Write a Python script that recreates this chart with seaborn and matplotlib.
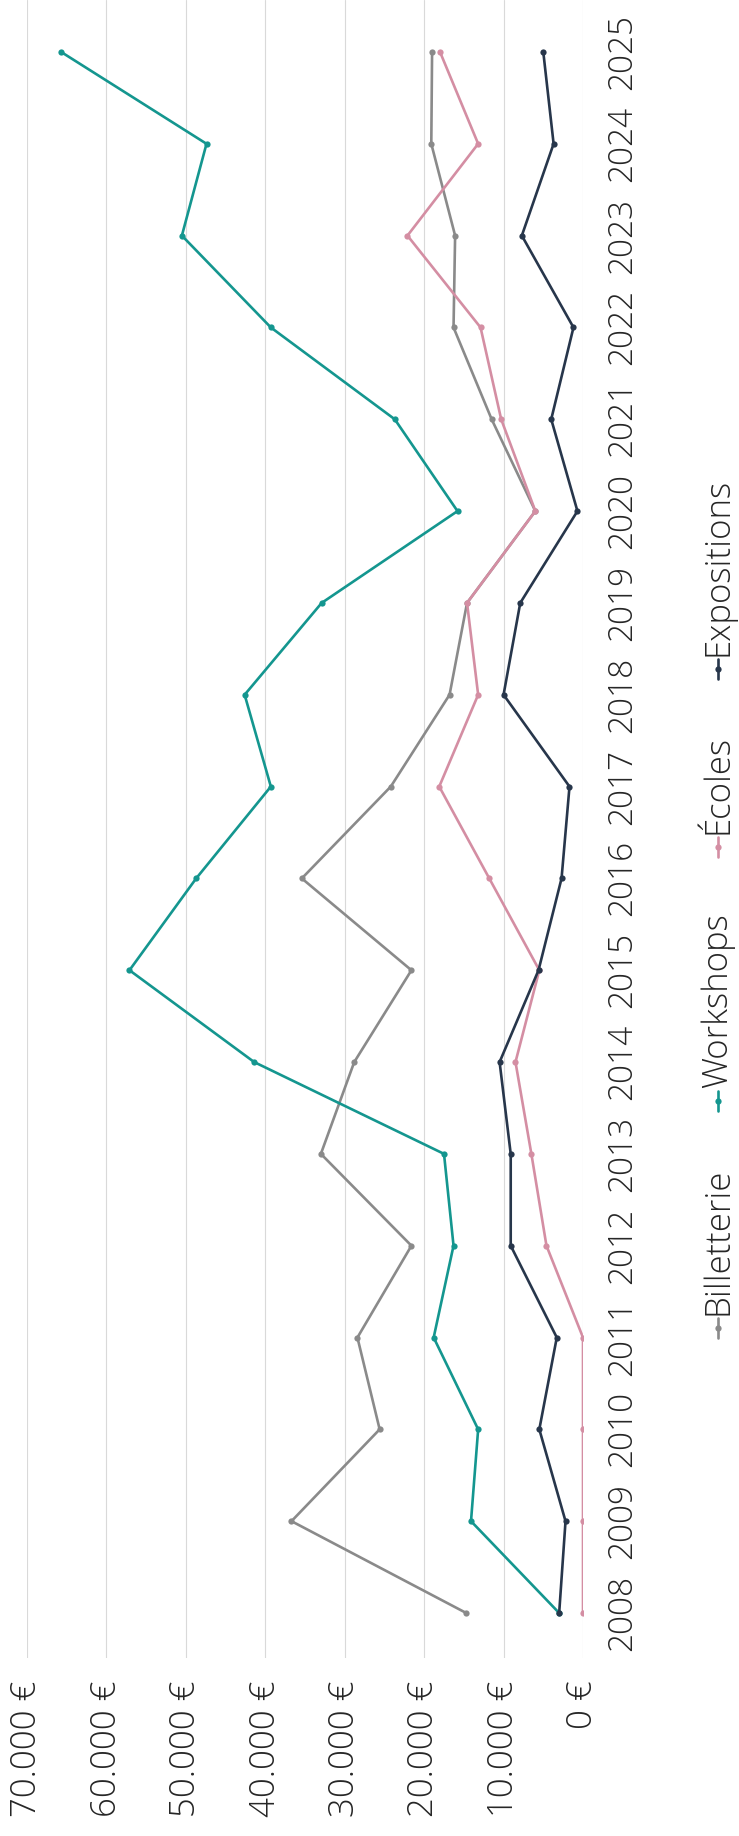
import numpy as np
import pandas as pd
import matplotlib
matplotlib.use("Agg")
import matplotlib.pyplot as plt
import seaborn as sns
from matplotlib.lines import Line2D
from matplotlib.ticker import FuncFormatter, FixedLocator

# ---------------- data ----------------
years = list(range(2008, 2026))
billetterie = [14700, 36700, 25600, 28400, 21600, 33000, 28800, 21600, 35400,
               24200, 16800, 14600, 6000, 11500, 16300, 16100, 19100, 19000]
workshops = [3000, 14100, 13200, 18800, 16300, 17500, 41400, 57100, 48700,
             39300, 42600, 32900, 15800, 23700, 39300, 50500, 47400, 65700]
ecoles = [0, 0, 0, 0, 4600, 6500, 8500, 5500, 11800,
          18100, 13200, 14600, 6000, 10300, 12900, 22100, 13200, 18000]
expositions = [3000, 2200, 5500, 3300, 9100, 9100, 10500, 5600, 2700,
               1700, 10000, 7900, 700, 4000, 1200, 7700, 3700, 5000]
series_names = ["Billetterie", "Workshops", "Écoles", "Expositions"]
value_ticks = [0, 10000, 20000, 30000, 40000, 50000, 60000, 70000]

colors = ["#8a8a8a", "#14968f", "#d48ea3", "#27364b"]

df = pd.concat([
    pd.DataFrame({"year": years, "value": vals, "series": name})
    for name, vals in zip(series_names, [billetterie, workshops, ecoles, expositions])
], ignore_index=True)

# ---------------- figure ----------------
W, H = 739, 1836
sns.set_style("white")
FONT = ["Open Sans", "DejaVu Sans"]
plt.rcParams["font.family"] = FONT
TXT = "#262626"

fig = plt.figure(figsize=(W / 100, H / 100), dpi=100)
ax_left, ax_right, ax_top, ax_bottom = 27, 583, 0, 1658
ax = fig.add_axes([ax_left / W, (H - ax_bottom) / H,
                   (ax_right - ax_left) / W, (ax_bottom - ax_top) / H])

sns.lineplot(data=df, x="value", y="year", hue="series", hue_order=series_names,
             palette=colors, orient="y", sort=True, estimator=None,
             marker="o", markersize=4.5, markeredgewidth=0, linewidth=1.9,
             legend=False, ax=ax, zorder=3)

ax.set_xlim(70000, 0)
ax.set_ylim(2007.51, 2025.566)

for s in ax.spines.values():
    s.set_visible(False)

ax.xaxis.set_major_locator(FixedLocator(value_ticks))
ax.xaxis.set_major_formatter(FuncFormatter(lambda v, p: f"{v:,.0f} €".replace(",", ".")))
ax.grid(axis="x", color="#d9d9d9", linewidth=0.8, zorder=0)
ax.grid(axis="y", visible=False)
ax.set_axisbelow(True)
ax.tick_params(axis="x", length=0, pad=16, labelsize=25, labelcolor=TXT)

ax.yaxis.tick_right()
ax.yaxis.set_major_locator(FixedLocator(years))
ax.yaxis.set_major_formatter(FuncFormatter(lambda v, p: f"{int(round(v))}"))
ax.tick_params(axis="y", length=0, pad=16, labelsize=24, labelcolor=TXT)
ax.set_xlabel("")
ax.set_ylabel("")

for t in ax.get_xticklabels():
    t.set_rotation(90)
    t.set_rotation_mode("default")
    t.set_ha("center")
    t.set_va("top")
    t.set_fontweight("light")
for t in ax.get_yticklabels():
    t.set_rotation(90)
    t.set_rotation_mode("default")
    t.set_ha("left")
    t.set_va("center")
    t.set_fontweight("light")

# ---------------- legend (rotated, manual) ----------------
renderer = fig.canvas.get_renderer()
leg_x = 718
handle_len = 20
gap_ht = 3
leg_bottom, leg_top = 1338, 478

texts = []
for name in series_names:
    t = fig.text(0, 0, name, rotation=90, rotation_mode="anchor",
                 ha="left", va="center", fontsize=25, color=TXT,
                 family=FONT, fontweight="light")
    texts.append(t)
lens = [t.get_window_extent(renderer).height for t in texts]
total = sum(lens) + len(lens) * (handle_len + gap_ht)
gap_items = (leg_bottom - leg_top - total) / (len(lens) - 1)

y_cursor = leg_bottom
for name, col, t, L in zip(series_names, colors, texts, lens):
    h0 = y_cursor
    h1 = y_cursor - handle_len
    fig.add_artist(Line2D([leg_x / W, leg_x / W], [(H - h0) / H, (H - h1) / H],
                          transform=fig.transFigure, color=col, linewidth=1.9))
    fig.add_artist(Line2D([leg_x / W], [(H - (h0 + h1) / 2) / H],
                          transform=fig.transFigure, color=col, marker="o",
                          markersize=4.5, markeredgewidth=0, linestyle="none"))
    ty = h1 - gap_ht
    t.set_position((leg_x / W, (H - ty) / H))
    y_cursor = ty - L - gap_items

fig.savefig("out.png", dpi=100, facecolor="white")
